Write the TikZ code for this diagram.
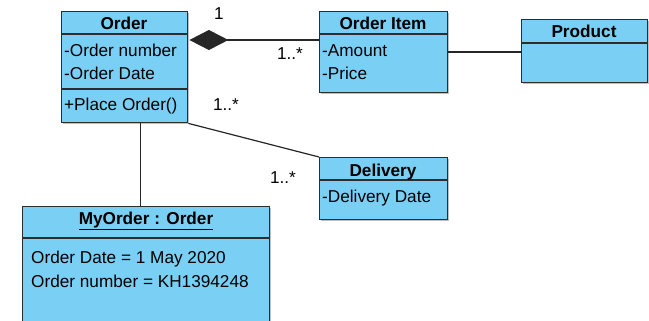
\documentclass[tikz,border=0pt]{standalone}
\usepackage{fontspec}
\setmainfont{Liberation Sans}
\usetikzlibrary{arrows.meta,shadows}
\definecolor{classfill}{RGB}{122,207,245}
\definecolor{classline}{RGB}{45,45,45}
\tikzset{
  classbox/.style={draw=classline, fill=classfill, line width=1.4pt, rectangle,
    anchor=north west, inner sep=0pt,
    drop shadow={shadow xshift=1.5pt, shadow yshift=-1.5pt, fill=black, opacity=0.25}},
  sep/.style={draw=classline, line width=1.4pt},
  txt/.style={anchor=base west, inner sep=0pt, font=\fontsize{17.2}{20}\selectfont},
  head/.style={anchor=base, inner sep=0pt, font=\fontsize{17.2}{20}\selectfont\bfseries},
  mult/.style={anchor=base, inner sep=0pt, font=\fontsize{17.2}{20}\selectfont},
  link/.style={draw=black!85, line width=1.2pt}
}
\begin{document}
\begin{tikzpicture}[x=1pt,y=-1pt]
\useasboundingbox (0,0) rectangle (649,321);
\begin{scope}
\clip (0,0) rectangle (649,321);
% class boxes
\node[classbox, minimum width=126pt, minimum height=111pt] (order) at (61,11) {};
\node[classbox, minimum width=128pt, minimum height=81pt] (orderitem) at (319,11) {};
\node[classbox, minimum width=126pt, minimum height=63pt] (product) at (521,19) {};
\node[classbox, minimum width=128pt, minimum height=62pt] (delivery) at (319,157) {};
\node[classbox, minimum width=247pt, minimum height=140pt] (myorder) at (22,206) {};

% compartment separators
\draw[sep] (61,34) -- (187,34);
\draw[sep] (61,89) -- (187,89);
\draw[sep] (319,34) -- (447,34);
\draw[sep] (521,43) -- (647,43);
\draw[sep] (319,180) -- (447,180);
\draw[sep] (22,238) -- (269,238);

% Order
\node[head] (orderT) at (124,30) {Order};
\node[txt] (orderA1) at (64,57) {-Order number};
\node[txt] (orderA2) at (64,80) {-Order Date};
\node[txt] (orderM1) at (64,111) {+Place Order()};

% Order Item
\node[head] (orderitemT) at (383,30) {Order Item};
\node[txt] (orderitemA1) at (322,57) {-Amount};
\node[txt] (orderitemA2) at (322,80) {-Price};

% Product
\node[head] (productT) at (584,38) {Product};

% Delivery
\node[head] (deliveryT) at (383,176) {Delivery};
\node[txt] (deliveryA1) at (322,202) {-Delivery Date};

% MyOrder object
\node[head] (myorderT) at (146,224) {\underline{MyOrder : Order}};
\node[txt] (myorderA1) at (31,263) {Order Date = 1 May 2020};
\node[txt] (myorderA2) at (31,287) {Order number = KH1394248};

% connectors
\draw[link, {Diamond[length=39pt,width=20pt]}-] ([xshift=1pt,yshift=-29pt]order.north east) -- ([yshift=-29pt]orderitem.north west);
\draw[link] ([yshift=-41pt]orderitem.north east) -- ([yshift=-33pt]product.north west);
\draw[link] (order.south east) -- (delivery.north west);
\draw[link] ([xshift=16pt]order.south) -- ([xshift=16pt]order.south |- myorder.north);

% multiplicities
\node[mult] (m1) at (219,20) {1};
\node[mult] (m2) at (290,60) {1..*};
\node[mult] (m3) at (226,111) {1..*};
\node[mult] (m4) at (283,183) {1..*};
\end{scope}
\end{tikzpicture}
\end{document}
